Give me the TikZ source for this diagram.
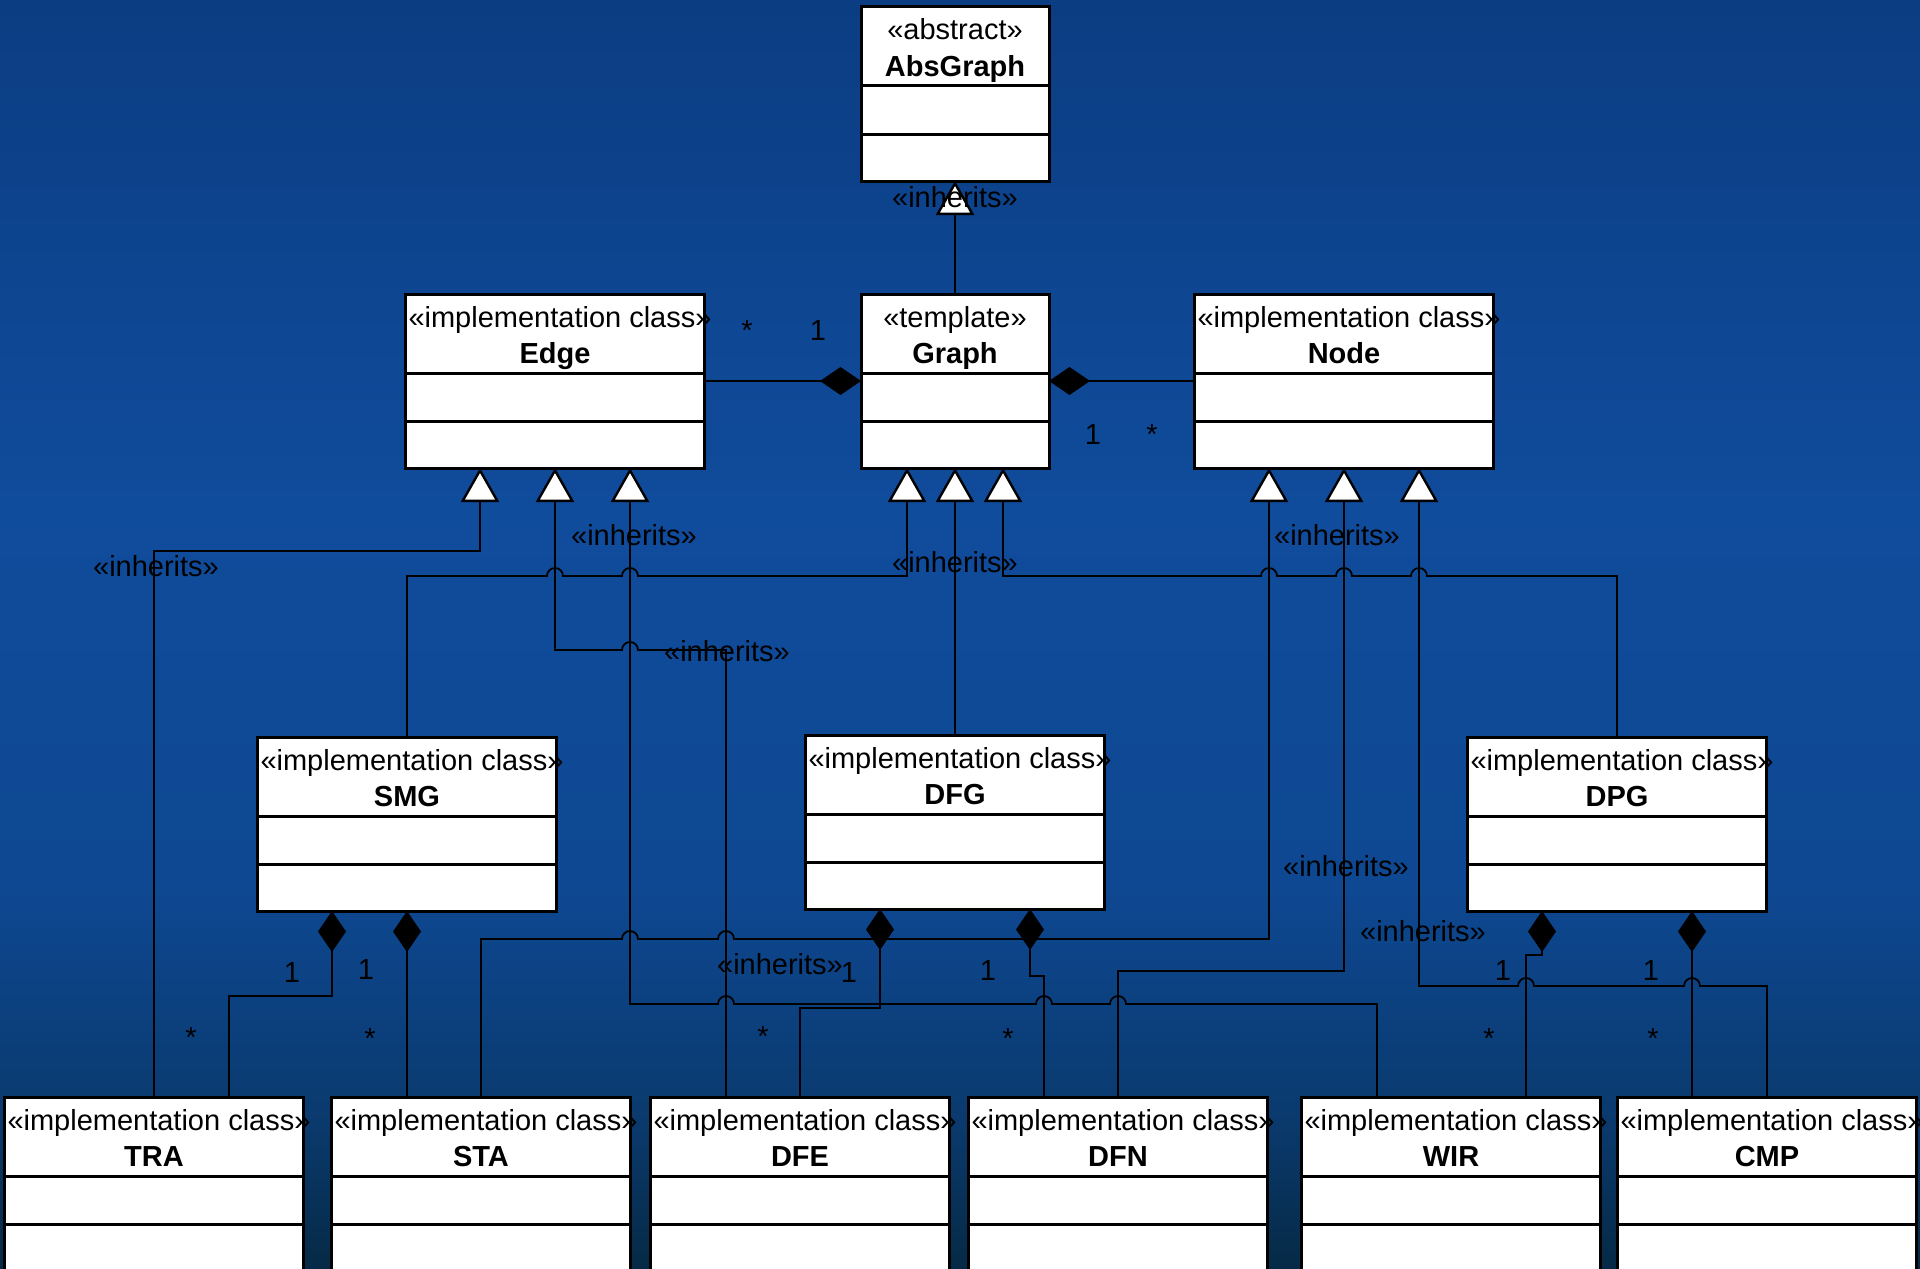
\documentclass[tikz,border=0pt]{standalone}
\usepackage{fontspec}
\setmainfont{Liberation Sans}
\usetikzlibrary{arrows.meta}

\definecolor{bgA}{HTML}{062A46}
\definecolor{bgB}{HTML}{0A3A6E}
\definecolor{bgC}{HTML}{0E4892}
\definecolor{bgD}{HTML}{104C9C}
\definecolor{bgE}{HTML}{0B3D82}
\pgfdeclareverticalshading{bgshade}{100bp}{color(0bp)=(bgA); color(25bp)=(bgA); color(31bp)=(bgB); color(40bp)=(bgC); color(55bp)=(bgD); color(75bp)=(bgE); color(100bp)=(bgE)}

\newcommand{\umlcls}[3]{\parbox[c][87pt][t]{#1}{\centering\rule{0pt}{16.5pt}#2\\\textbf{#3}}}
\newcommand{\impl}{\makebox[\linewidth][l]{\hspace{1.5pt}«implementation class»}}

\tikzset{
  cls/.style={draw=black, line width=1.5pt, fill=white, inner sep=0pt, outer sep=0pt,
    font=\fontsize{14.5}{18}\selectfont,
    path picture={
      \draw[line width=1.5pt] ([yshift=-39.5pt]path picture bounding box.north west) -- ([yshift=-39.5pt]path picture bounding box.north east);
      \draw[line width=1.5pt] ([yshift=-63.5pt]path picture bounding box.north west) -- ([yshift=-63.5pt]path picture bounding box.north east);}},
  conn/.style={draw=black, line width=0.9pt},
  inh/.style={conn, -{Triangle[length=17pt, width=19pt, fill=white, line width=1.2pt]}},
  comp/.style={conn, -{Diamond[length=20.5pt, width=14pt]}},
  lbl/.style={inner sep=0pt, font=\fontsize{14.5}{18}\selectfont, text=black},
}

\begin{document}
\begin{tikzpicture}[x=0.5pt, y=-0.5pt]
\useasboundingbox (0,0) rectangle (1920,1268);
\shade[shading=bgshade] (0,0) rectangle (1920,1268);

% classes
\node[cls] (AbsGraph) at (955,94) {\umlcls{94pt}{«abstract»}{AbsGraph}};
\node[cls] (Graph) at (955,381) {\umlcls{94pt}{«template»}{Graph}};
\node[cls] (Edge) at (555,381) {\umlcls{149.5pt}{\impl}{Edge}};
\node[cls] (Node) at (1344,381) {\umlcls{149.5pt}{\impl}{Node}};
\node[cls] (SMG) at (407,824) {\umlcls{149.5pt}{\impl}{SMG}};
\node[cls] (DFG) at (955,822) {\umlcls{149.5pt}{\impl}{DFG}};
\node[cls] (DPG) at (1617,824) {\umlcls{149.5pt}{\impl}{DPG}};
\node[cls] (TRA) at (154,1184) {\umlcls{149.5pt}{\impl}{TRA}};
\node[cls] (STA) at (481,1184) {\umlcls{149.5pt}{\impl}{STA}};
\node[cls] (DFE) at (800,1184) {\umlcls{149.5pt}{\impl}{DFE}};
\node[cls] (DFN) at (1118,1184) {\umlcls{149.5pt}{\impl}{DFN}};
\node[cls] (WIR) at (1451,1184) {\umlcls{149.5pt}{\impl}{WIR}};
\node[cls] (CMP) at (1767,1184) {\umlcls{149.5pt}{\impl}{CMP}};

% inheritance
\draw[inh] (Graph.north) -- (AbsGraph.south);
\draw[inh] (TRA.north) -- (154,551) -- (480,551) -- ([xshift=-37.5pt]Edge.south);
\draw[inh] ([xshift=-37pt]DFE.north) -- (726,650) -- (638,650)
  arc[start angle=0, end angle=-180, radius=8] -- (555,650) -- (Edge.south);
\draw[inh] ([xshift=-37pt]WIR.north) -- (1377,1004) -- (1126,1004)
  arc[start angle=0, end angle=-180, radius=8] -- (1052,1004)
  arc[start angle=0, end angle=-180, radius=8] -- (734,1004)
  arc[start angle=0, end angle=-180, radius=8] -- (630,1004) -- ([xshift=37.5pt]Edge.south);
\draw[inh] (SMG.north) -- (407,576) -- (547,576)
  arc[start angle=180, end angle=360, radius=8] -- (622,576)
  arc[start angle=180, end angle=360, radius=8] -- (907,576) -- ([xshift=-24pt]Graph.south);
\draw[inh] (DFG.north) -- (Graph.south);
\draw[inh] (DPG.north) -- (1617,576) -- (1427,576)
  arc[start angle=0, end angle=-180, radius=8] -- (1352,576)
  arc[start angle=0, end angle=-180, radius=8] -- (1277,576)
  arc[start angle=0, end angle=-180, radius=8] -- (1003,576) -- ([xshift=24pt]Graph.south);
\draw[inh] (STA.north) -- (481,939) -- (622,939)
  arc[start angle=180, end angle=360, radius=8] -- (718,939)
  arc[start angle=180, end angle=360, radius=8] -- (1269,939) -- ([xshift=-37.5pt]Node.south);
\draw[inh] (DFN.north) -- (1118,971) -- (1344,971) -- (Node.south);
\draw[inh] (CMP.north) -- (1767,986) -- (1700,986)
  arc[start angle=0, end angle=-180, radius=8] -- (1534,986)
  arc[start angle=0, end angle=-180, radius=8] -- (1419,986) -- ([xshift=37.5pt]Node.south);

% composition
\draw[comp] (Edge.east) -- (Graph.west);
\draw[comp] (Node.west) -- (Graph.east);
\draw[comp] ([xshift=37.5pt]TRA.north) -- (229,996) -- (332,996) -- ([xshift=-37.5pt]SMG.south);
\draw[comp] ([xshift=-37pt]STA.north) -- (SMG.south);
\draw[comp] (DFE.north) -- (800,1008) -- (880,1008) -- ([xshift=-37.5pt]DFG.south);
\draw[comp] ([xshift=-37pt]DFN.north) -- (1044,976) -- (1030,976) -- ([xshift=37.5pt]DFG.south);
\draw[comp] ([xshift=37.5pt]WIR.north) -- (1526,955) -- (1542,955) -- ([xshift=-37.5pt]DPG.south);
\draw[comp] ([xshift=-37.5pt]CMP.north) -- ([xshift=37.5pt]DPG.south);

% labels
\node[lbl] (l1) at (955,197) {«inherits»};
\node[lbl] (l2) at (156,566) {«inherits»};
\node[lbl] (l3) at (634,535) {«inherits»};
\node[lbl] (l4) at (955,562) {«inherits»};
\node[lbl] (l5) at (1337,535) {«inherits»};
\node[lbl] (l6) at (727,651) {«inherits»};
\node[lbl] (l7) at (1346,866) {«inherits»};
\node[lbl] (l8) at (1423,931) {«inherits»};
\node[lbl] (l9) at (780,964) {«inherits»};

\node[lbl] (m1) at (818,331) {1};
\node[lbl] (m2) at (1093,435) {1};
\node[lbl] (m3) at (292,973) {1};
\node[lbl] (m4) at (366,970) {1};
\node[lbl] (m5) at (849,973) {1};
\node[lbl] (m6) at (988,971) {1};
\node[lbl] (m7) at (1503,971) {1};
\node[lbl] (m8) at (1651,971) {1};

\node[lbl] (s1) at (747,331) {*};
\node[lbl] (s2) at (1152,435) {*};
\node[lbl] (s3) at (191,1038) {*};
\node[lbl] (s4) at (370,1039) {*};
\node[lbl] (s5) at (763,1037) {*};
\node[lbl] (s6) at (1008,1039) {*};
\node[lbl] (s7) at (1489,1039) {*};
\node[lbl] (s8) at (1653,1039) {*};
\end{tikzpicture}
\end{document}
